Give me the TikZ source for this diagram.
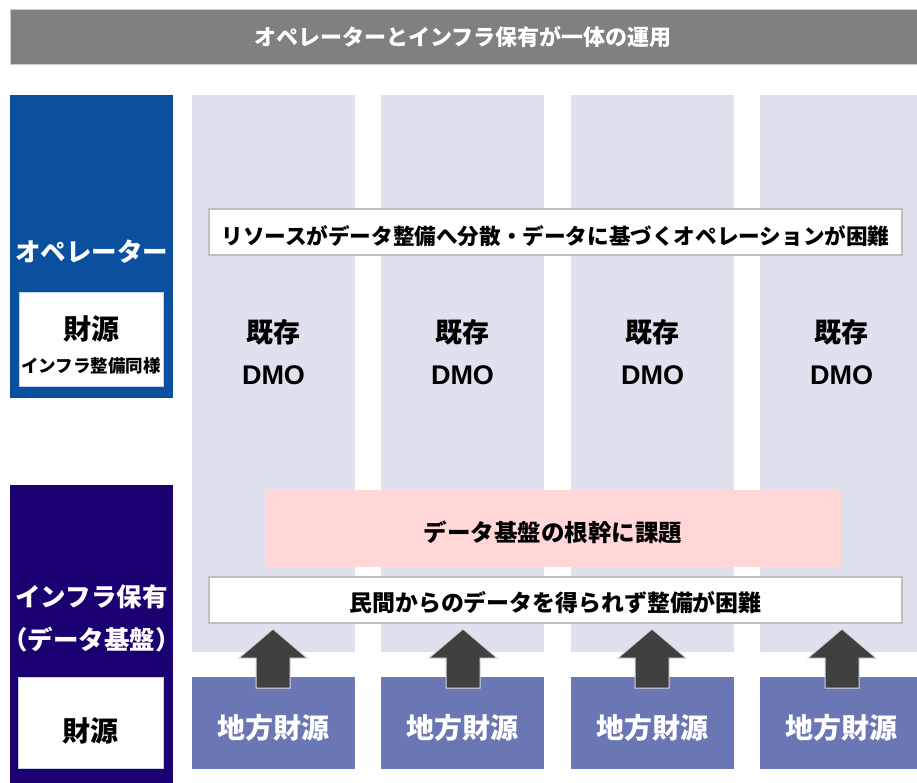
\documentclass[tikz,border=0pt]{standalone}
\usepackage{fontspec}
\setmainfont{Noto Sans CJK JP}
\newfontfamily\arialfont{Liberation Sans}
\usetikzlibrary{calc}
\definecolor{bannergray}{RGB}{128,128,128}
\definecolor{opblue}{RGB}{11,80,158}
\definecolor{infnavy}{RGB}{26,0,112}
\definecolor{colbg}{RGB}{223,225,239}
\definecolor{locfund}{RGB}{106,119,180}
\definecolor{issuepink}{RGB}{255,215,215}
\definecolor{arrowgray}{RGB}{64,64,64}
\newcommand{\fs}[1]{\fontsize{#1}{#1}\selectfont}
\begin{document}
\begin{tikzpicture}[x=1pt,y=-1pt,
  rect/.style={inner sep=0pt, outer sep=0pt, anchor=north west, draw=none},
  lbl/.style={inner sep=0pt, font=\bfseries},
  whitebox/.style={rect, fill=white, draw=black!25, line width=1.2pt},
  fundbox/.style={rect, fill=white, draw=opblue!25, line width=1pt},
  blockarrow/.style={fill=arrowgray, draw=black!15, line width=1pt}]
\clip (0,0) rectangle (917,783);
\fill[white] (0,0) rectangle (917,783);

% top banner
\node[rect, fill=bannergray, draw=black!20, line width=0.8pt, minimum width=915pt, minimum height=55pt] (banner) at (10,9) {};
\node[lbl, text=white, font=\bfseries\fs{22}] (bannertxt) at (463,37) {オペレーターとインフラ保有が一体の運用};

% columns
\foreach \i/\x in {1/192,2/381,3/571,4/760}{
  \node[rect, fill=colbg, minimum width=163pt, minimum height=557pt] (col\i) at (\x,95) {};
  \node[lbl, font=\bfseries\fs{27}] (kz\i) at ($(col\i.north)+(0,237)$) {既存};
  \node[lbl, font=\arialfont\bfseries\fs{27}] (dmo\i) at ($(col\i.north)+(0,280)$) {DMO};
  \node[rect, fill=locfund, minimum width=163pt, minimum height=92pt] (fund\i) at (\x,677) {};
  \node[lbl, text=white, font=\bfseries\fs{28}] (fundtxt\i) at ($(fund\i.center)+(0,5)$) {地方財源};
}

% left operator box
\node[rect, fill=opblue, minimum width=163pt, minimum height=303pt] (op) at (10,95) {};
\node[lbl, text=white, font=\bfseries\fs{25.5}] (optxt) at (91.5,252) {オペレーター};
\node[fundbox, minimum width=144pt, minimum height=94pt] (opfund) at (19,292) {};
\node[lbl, font=\bfseries\fs{28}] (opfund1) at (91,329) {財源};
\node[lbl, font=\bfseries\fs{17.5}] (opfund2) at (91,366) {インフラ整備同様};

% left infrastructure box
\node[rect, fill=infnavy, minimum width=163pt, minimum height=298pt] (inf) at (10,485) {};
\node[lbl, text=white, font=\bfseries\fs{25.5}] (inftxt1) at (91.5,597) {インフラ保有};
\node[lbl, text=white, font=\bfseries\fs{25.5}] (inftxt2) at (91.5,640) {（データ基盤）};
\node[fundbox, minimum width=145pt, minimum height=91pt] (inffund) at (18,677) {};
\node[lbl, font=\bfseries\fs{28}] (inffundtxt) at ($(inffund.center)+(0,8)$) {財源};

% issue boxes
\node[whitebox, minimum width=693pt, minimum height=46pt] (issue1) at (209,209) {};
\node[lbl, font=\bfseries\fs{21.6}] (issue1txt) at ($(issue1.center)+(0,4)$) {リソースがデータ整備へ分散・データに基づくオペレーションが困難};
\node[rect, fill=issuepink, minimum width=576pt, minimum height=77pt] (issue2) at (266,490) {};
\node[lbl, font=\bfseries\fs{23.5}] (issue2txt) at (553,532) {データ基盤の根幹に課題};
\node[whitebox, minimum width=693pt, minimum height=46pt] (issue3) at (209,577) {};
\node[lbl, font=\bfseries\fs{22.9}] (issue3txt) at ($(issue3.center)+(0,3)$) {民間からのデータを得られず整備が困難};

% block arrows from local funds up into the columns
\foreach \i/\cx in {1/273,2/463,3/652,4/842}{
  \coordinate (ab\i) at (\cx,688);
  \draw[blockarrow] (ab\i) ++(-17,0) -- ++(0,-30) -- ++(-17,0) -- ++(34,-29) -- ++(34,29) -- ++(-17,0) -- ++(0,30) -- cycle;
}
\end{tikzpicture}
\end{document}
